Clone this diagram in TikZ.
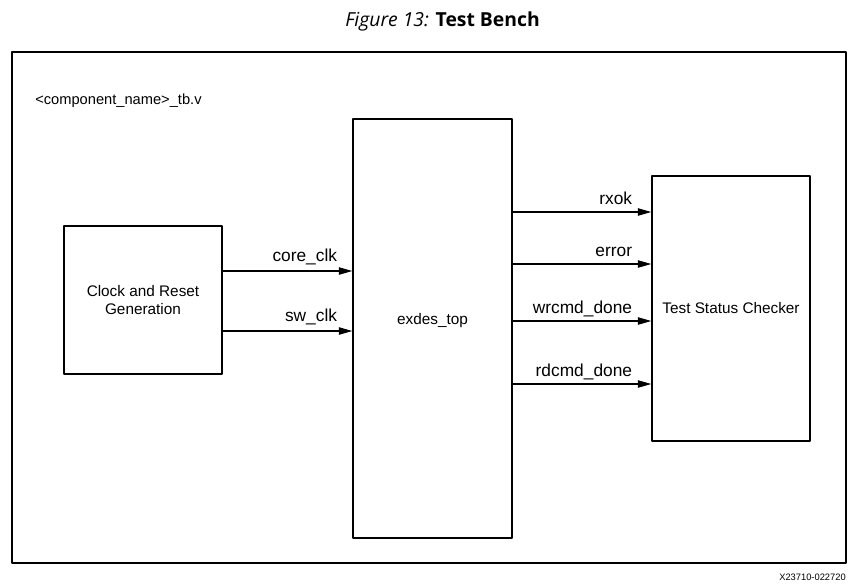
\documentclass[tikz,border=0pt]{standalone}
\usepackage{fontspec}
\setmainfont{Liberation Sans}
\newfontfamily\titlefont{Open Sans}
\usetikzlibrary{arrows.meta}
\tikzset{
  blk/.style={draw, line width=1.1pt, align=center, font=\fontsize{11.5}{14}\selectfont, inner sep=0pt},
  sig/.style={-{Triangle[length=10pt, width=5.5pt]}, line width=0.8pt},
  lbl/.style={pos=1, anchor=base east, font=\fontsize{13}{15}\selectfont, inner sep=0pt}
}
\begin{document}
\begin{tikzpicture}[x=0.75pt, y=-0.75pt, line join=round]
            \useasboundingbox (0,0) rectangle (858,587);
            \def\yca{271} \def\ycb{331} % clock lines
            \def\yra{212} \def\yrb{264} \def\yrc{321} \def\yrd{384} % status lines
            \node[anchor=base, font=\titlefont\fontsize{14.5}{17}\selectfont] (title) at (442.5,26) {\itshape Figure 13: \upshape\bfseries Test Bench};
            \draw[line width=1.1pt] (12,52) rectangle (846,563);
            \node[anchor=base west, font=\fontsize{11}{13}\selectfont, inner sep=0pt] (tbname) at (35,104) {<component\_name>\_tb.v};
            % blocks
            \node[blk, minimum width=118.5pt, minimum height=111pt] (clkgen) at (143,300) {Clock and Reset\\Generation};
            \node[blk, minimum width=119.25pt, minimum height=314.25pt] (exdes) at (432.5,328.5) {};
            \node[blk, draw=none] (extop) at ([yshift=6pt]exdes.center) {exdes\_top};
            \node[blk, minimum width=118.5pt, minimum height=198.75pt] (checker) at (731,308.5) {Test Status Checker};
            % clocks
            \draw[sig] (clkgen.east |- 0,\yca) -- (exdes.west |- 0,\yca) node[lbl, xshift=-11pt, yshift=7pt]{core\_clk};
            \draw[sig] (clkgen.east |- 0,\ycb) -- (exdes.west |- 0,\ycb) node[lbl, xshift=-11pt, yshift=7pt]{sw\_clk};
            % status
            \draw[sig] (exdes.east |- 0,\yra) -- (checker.west |- 0,\yra) node[lbl, xshift=-14pt, yshift=5.5pt]{rxok};
            \draw[sig] (exdes.east |- 0,\yrb) -- (checker.west |- 0,\yrb) node[lbl, xshift=-14pt, yshift=5.5pt]{error};
            \draw[sig] (exdes.east |- 0,\yrc) -- (checker.west |- 0,\yrc) node[lbl, xshift=-14pt, yshift=5.5pt]{wrcmd\_done};
            \draw[sig] (exdes.east |- 0,\yrd) -- (checker.west |- 0,\yrd) node[lbl, xshift=-14pt, yshift=5.5pt]{rdcmd\_done};
            \node[anchor=base east, font=\fontsize{7}{8}\selectfont, inner sep=0pt] (figid) at (846,580) {X23710-022720};
        \end{tikzpicture}
\end{document}
